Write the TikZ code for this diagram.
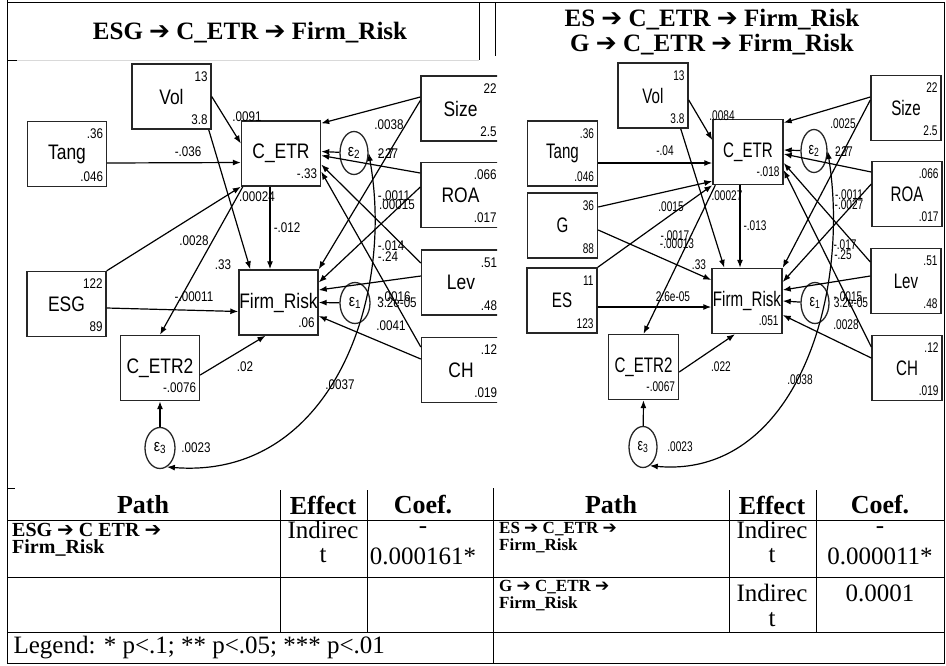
\documentclass[tikz,border=0pt]{standalone}
\usepackage{fontspec}
\setmainfont{Liberation Serif}
\newfontfamily\lsf[FakeStretch=0.83]{Liberation Sans}
\newfontfamily\rsf[FakeStretch=0.72]{Liberation Sans}
\newfontfamily\arrfont{DejaVu Sans}
\usetikzlibrary{arrows.meta,shapes.geometric}
\newcommand{\thickarrow}{{\arrfont\bfseries ➔}}

\begin{document}
\begin{tikzpicture}[x=1pt,y=-1pt,>={Latex[length=8pt,width=6pt]},
    var/.style={draw=black!85, line width=1.4pt, minimum width=79pt, minimum height=65pt, inner sep=0pt, font=\lsf\fontsize{21}{21}\selectfont},
    err/.style={draw=black!85, ellipse, line width=1.3pt, minimum width=30pt, minimum height=41pt, inner sep=0pt, font=\lsf\fontsize{17}{17}\selectfont},
    num/.style={font=\lsf\fontsize{14}{14}\selectfont, inner sep=0pt},
    tl/.style={label={[num, anchor=north east, xshift=-4pt, yshift=-8pt]north east:#1}},
    bl/.style={label={[num, anchor=south east, xshift=-4pt, yshift=5pt]south east:#1}},
    be/.style={label={[num, anchor=south east, xshift=-4pt, yshift=8pt]south east:#1}},
    pth/.style={->, line width=1.2pt},
    ttl/.style={font=\fontsize{25}{30}\selectfont\bfseries},
    head/.style={font=\fontsize{26}{28}\selectfont\bfseries},
    cell/.style={font=\fontsize{25}{27}\selectfont},
    pathtxt/.style={font=\fontsize{20}{17}\selectfont\bfseries, align=left, anchor=north west, inner sep=0pt},
    rule/.style={line width=0.9pt},
]
\useasboundingbox (0,0) rectangle (946,665);

% Marco y titulos
\draw[rule] (7,0) -- (7,663) -- (944,663) -- (944,2) -- (7,2);
\draw[rule] (479,2) -- (479,60);
\draw[rule] (495,2) -- (495,56);
\node[ttl] (t1) at (250,33) {ESG \thickarrow{} C\_ETR \thickarrow{} Firm\_Risk};
\node[ttl] (t2) at (712,20) {ES \thickarrow{} C\_ETR \thickarrow{} Firm\_Risk};
\node[ttl] (t3) at (712,45) {G \thickarrow{} C\_ETR \thickarrow{} Firm\_Risk};
\draw[rule] (7,60) -- (17,60);
\draw[gray!30] (17,60) -- (479,60);

% Modelo ESG
\begin{scope}
    \clip (7,55) rectangle (497,488);
    \node[var, tl=13, bl=3.8] (vol) at (171.5,96.5) {Vol};
    \node[var, tl=.36, bl=.046] (tang) at (67,154) {Tang};
    \node[var, tl=122, bl=89] (esg) at (66.5,304) {ESG};
    \node[var, be=-.33] (cetr) at (281,153.5) {C\_ETR};
    \node[var, be=.06] (frisk) at (278.5,302.5) {Firm\_Risk};
    \node[var, be=-.0076] (cetrsq) at (160,368) {C\_ETR2};
    \node[var, tl=22, bl=2.5] (size) at (460.5,108.5) {Size};
    \node[var, tl=.066, bl=.017] (roa) at (460.5,195) {ROA};
    \node[var, tl=.51, bl=.48] (lev) at (461,282.5) {Lev};
    \node[var, tl=.12, bl=.019] (ch) at (461,370) {CH};
    \node[err] (e1) at (355,303) {ε\textsubscript{1}};
    \node[err, minimum width=28pt, minimum height=43pt] (e2) at (354,153) {ε\textsubscript{2}};
    \node[err] (e3) at (160,448) {ε\textsubscript{3}};

    \draw[pth] (vol.east) -- ([yshift=10pt]cetr.west);
    \draw[pth] ([xshift=-3pt]vol.south east) -- ([xshift=12pt]frisk.north west);
    \draw[pth] ([yshift=-9pt]tang.east) -- ([yshift=-9pt]cetr.west);
    \draw[pth] (esg.north east) -- (cetr.south west);
    \draw[pth] ([yshift=-4pt]esg.east) -- ([yshift=-9pt]frisk.west);
    \draw[pth] ([xshift=-11pt]cetr.south) -- ([xshift=-8.5pt]frisk.north);
    \draw[pth] ([xshift=2pt]cetr.south west) -- (cetrsq.north);
    \draw[pth] ([yshift=-7pt]cetrsq.east) -- ([xshift=-13pt]frisk.south);
    \draw[pth] (e3) -- (cetrsq.south);
    \draw[pth] ([yshift=11.5pt]size.west) -- ([yshift=-3pt]cetr.north east);
    \draw[pth] ([yshift=8pt]size.west) -- (frisk.north east);
    \draw[pth] ([yshift=22pt]roa.west) -- ([yshift=-2pt]cetr.east);
    \draw[pth] ([yshift=8pt]roa.west) -- ([yshift=20pt]frisk.east);
    \draw[pth] ([yshift=19.5pt]lev.west) -- ([yshift=-11pt]cetr.east);
    \draw[pth] ([yshift=6.5pt]lev.west) -- ([yshift=12.5pt]frisk.east);
    \draw[pth] ([yshift=23pt]ch.west) -- ([yshift=-18pt]cetr.east);
    \draw[pth] ([yshift=11pt]ch.west) -- ([yshift=-13.5pt]frisk.east);
    \draw[pth] (e1) -- (frisk.east);
    \draw[pth] (e2) -- ([yshift=2pt]cetr.east);
    \draw[<->, line width=1.2pt] (e2.east) .. controls (395,300) and (330,480) .. (e3.-70);

    \node[num] (c1) at (247,117) {.0091};
    \node[num] (c2) at (188,152) {-.036};
    \node[num] (c3) at (194,241) {.0028};
    \node[num] (c4) at (223,265) {.33};
    \node[num] (c5) at (257,197) {.00024};
    \node[num] (c6) at (287,228) {-.012};
    \node[num] (c7) at (194,297) {-.00011};
    \node[num] (c8) at (245,367) {.02};
    \node[num] (c9) at (196,448) {.0023};
    \node[num] (c10) at (389,125) {.0038};
    \node[num] (c11) at (386,154) {2.7};
    \node[num] (c12) at (388,154) {-.27};
    \node[num] (c13) at (394,196) {-.0011};
    \node[num] (c14) at (397,205) {.00015};
    \node[num] (c15) at (391,246) {-.014};
    \node[num] (c16) at (388,257) {-.24};
    \node[num] (c17) at (394,297) {-.0016};
    \node[num] (c18) at (397,303) {3.2e-05};
    \node[num] (c19) at (391,326) {.0041};
    \node[num] (c20) at (340,385) {.0037};
\end{scope}

% Modelo ES y G
\begin{scope}[var/.append style={minimum width=70pt, font=\rsf\fontsize{21}{21}\selectfont},
    num/.style={font=\rsf\fontsize{14}{14}\selectfont, inner sep=0pt},
    err/.append style={font=\rsf\fontsize{17}{17}\selectfont}]
    \node[var, tl=13, bl=3.8] (vol2) at (653,95.5) {Vol};
    \node[var, tl=.36, bl=.046] (tang2) at (562.5,153.5) {Tang};
    \node[var, tl=36, bl=88] (g2) at (562.5,225.5) {G};
    \node[var, tl=11, bl=123] (es2) at (562,300.5) {ES};
    \node[var, be=-.018] (cetr2) at (748,152) {C\_ETR};
    \node[var, be=.051] (frisk2) at (747,301) {Firm\_Risk};
    \node[var, be=-.0067] (cetrsq2) at (643.5,367) {C\_ETR2};
    \node[var, tl=22, bl=2.5] (size2) at (906,108) {Size};
    \node[var, tl=.066, bl=.017] (roa2) at (907,194) {ROA};
    \node[var, tl=.51, bl=.48] (lev2) at (906,281) {Lev};
    \node[var, tl=.12, bl=.019] (ch2) at (907,368) {CH};
    \node[err, minimum width=28pt] (e1b) at (815,303) {ε\textsubscript{1}};
    \node[err, minimum width=26pt, minimum height=43pt] (e2b) at (814,151) {ε\textsubscript{2}};
    \node[err, minimum width=28pt] (e3b) at (643,447) {ε\textsubscript{3}};

    \draw[pth] ([yshift=-4.5pt]vol2.east) -- ([yshift=12pt]cetr2.west);
    \draw[pth] ([xshift=-8pt]vol2.south east) -- ([xshift=13pt]frisk2.north west);
    \draw[pth] ([yshift=-9.5pt]tang2.east) -- ([yshift=-11pt]cetr2.west);
    \draw[pth] ([yshift=18.5pt]g2.east) -- ([yshift=4pt]cetr2.south west);
    \draw[pth] ([yshift=-4.5pt]g2.east) -- ([yshift=21pt]frisk2.west);
    \draw[pth] (es2.north east) -- (cetr2.south west);
    \draw[pth] ([yshift=-6.5pt]es2.east) -- ([yshift=-6pt]frisk2.west);
    \draw[pth] ([xshift=-8pt]cetr2.south) -- ([xshift=-7pt]frisk2.north);
    \draw[pth] ([xshift=3pt]cetr2.south west) -- (cetrsq2.north);
    \draw[pth] ([yshift=-5pt]cetrsq2.east) -- ([xshift=-12pt]frisk2.south);
    \draw[pth] (e3b) -- (cetrsq2.south);
    \draw[pth] ([yshift=11pt]size2.west) -- ([yshift=-4pt]cetr2.north east);
    \draw[pth] ([yshift=8pt]size2.west) -- (frisk2.north east);
    \draw[pth] ([yshift=22pt]roa2.west) -- ([yshift=-2pt]cetr2.east);
    \draw[pth] ([yshift=10pt]roa2.west) -- ([yshift=19pt]frisk2.east);
    \draw[pth] ([yshift=19pt]lev2.west) -- ([yshift=-11pt]cetr2.east);
    \draw[pth] ([yshift=5pt]lev2.west) -- ([yshift=11pt]frisk2.east);
    \draw[pth] ([yshift=21pt]ch2.west) -- ([yshift=-18pt]cetr2.east);
    \draw[pth] ([yshift=10pt]ch2.west) -- ([yshift=-14pt]frisk2.east);
    \draw[pth] (e1b) -- (frisk2.east);
    \draw[pth] (e2b) -- ([yshift=2pt]cetr2.east);
    \draw[<->, line width=1.2pt] (e2b.east) .. controls (851,298) and (794,479) .. (e3b.-70);

    \node[num] (d1) at (722,116) {.0084};
    \node[num] (d2) at (665,151) {-.04};
    \node[num] (d3) at (671,207) {.0015};
    \node[num] (d4) at (675,236) {-.0017};
    \node[num] (d5) at (677,244) {-.00013};
    \node[num] (d6) at (699,265) {.33};
    \node[num] (d7) at (673,297) {2.6e-05};
    \node[num] (d8) at (727,196) {.00027};
    \node[num] (d9) at (755,226) {-.013};
    \node[num] (d10) at (721,367) {.022};
    \node[num] (d11) at (800,380) {.0038};
    \node[num] (d12) at (680,447) {.0023};
    \node[num] (d13) at (843,124) {.0025};
    \node[num] (d14) at (842,152) {2.7};
    \node[num] (d15) at (844,152) {-.27};
    \node[num] (d16) at (849,195) {-.0011};
    \node[num] (d17) at (849,205) {-.0027};
    \node[num] (d18) at (845,245) {-.017};
    \node[num] (d19) at (843,255) {-.25};
    \node[num] (d20) at (848,297) {-.0015};
    \node[num] (d21) at (851,303) {3.2e-05};
    \node[num] (d22) at (846,325) {.0028};
\end{scope}

% Tablas de efectos
\draw[rule] (7,520) -- (944,520);
\draw[rule] (7,577) -- (944,577);
\draw[rule] (7,632) -- (944,632);
\foreach \x in {280,367,729,816} \draw[rule] (\x,490) -- (\x,632);
\draw[rule] (493,488) -- (493,663);
\draw[rule] (7,488) -- (15,488);

\node[head] (h1) at (143,505) {Path};
\node[head] (h2) at (323,505) {Effect};
\node[head] (h3) at (423,505) {Coef.};
\node[head] (h4) at (611,505) {Path};
\node[head] (h5) at (772,505) {Effect};
\node[head] (h6) at (880,505) {Coef.};

\node[pathtxt] (p1) at (12,523) {ESG \thickarrow{} C ETR \thickarrow{}\\Firm\_Risk};
\node[cell] (i1) at (323,530) {Indirec};
\node[cell] (i2) at (323,556) {t};
\node[cell] (k1) at (423,530) {-};
\node[cell] (k2) at (423,556) {0.000161*};

\node[pathtxt, font=\fontsize{17}{17}\selectfont\bfseries] (p2) at (499,522) {ES \thickarrow{} C\_ETR \thickarrow{}\\Firm\_Risk};
\node[cell] (i3) at (772,530) {Indirec};
\node[cell] (i4) at (772,556) {t};
\node[cell] (k3) at (880,530) {-};
\node[cell] (k4) at (880,556) {0.000011*};

\node[pathtxt, font=\fontsize{17}{17}\selectfont\bfseries] (p3) at (499,580) {G \thickarrow{} C\_ETR \thickarrow{}\\Firm\_Risk};
\node[cell] (i5) at (772,593) {Indirec};
\node[cell] (i6) at (772,620) {t};
\node[cell] (k5) at (880,593) {0.0001};

\node[cell, anchor=west] (leg) at (10,648) {Legend: * p<.1; ** p<.05; *** p<.01};
\end{tikzpicture}
\end{document}
